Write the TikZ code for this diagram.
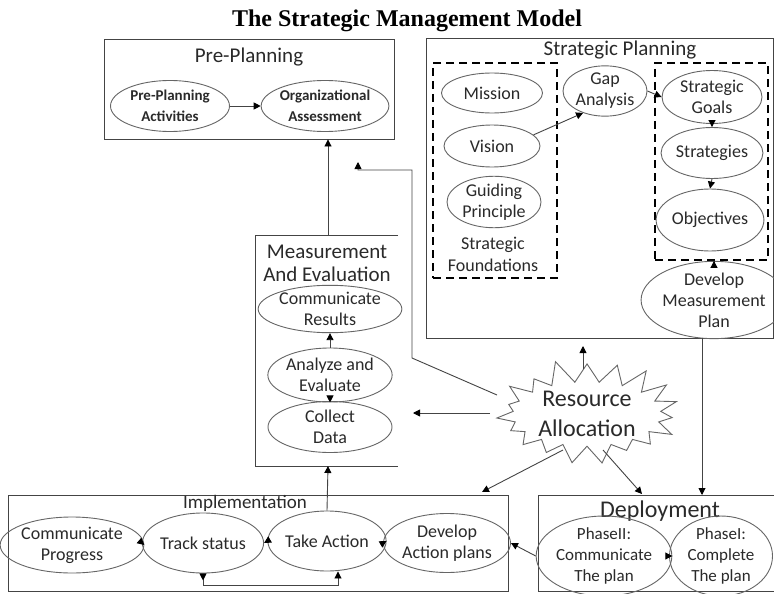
\documentclass[tikz,border=0pt]{standalone}
\usepackage{fontspec}
\setmainfont{Carlito}
\newfontfamily\titlefont{Liberation Serif}
\usetikzlibrary{shapes.geometric,shapes.symbols,arrows.meta}
\definecolor{lc}{HTML}{444444}
\definecolor{ec}{HTML}{666666}
\definecolor{tc}{HTML}{2A2A2A}
\tikzset{
  boxline/.style={draw=lc, line width=0.9pt},
  ell/.style={ellipse, draw=ec, line width=0.9pt, inner sep=0pt, align=center, text=tc,
              font=\fontsize{18}{21}\selectfont},
  bell/.style={ell, font=\bfseries\fontsize{15}{21}\selectfont},
  hdr/.style={text=tc, align=center, inner sep=0pt, font=\fontsize{21}{22}\selectfont},
  dbox/.style={draw=black, line width=2pt, dash pattern=on 8pt off 5pt, rectangle, inner sep=0pt},
  tip/.style={Triangle[length=7pt,width=7pt]},
  arr/.style={draw=lc, line width=0.9pt, -{Triangle[length=7pt,width=7pt,color=black]}},
  plain/.style={draw=lc, line width=0.9pt},
}
\begin{document}
\begin{tikzpicture}[x=1pt,y=-1pt]
\useasboundingbox[fill=white] (0,0) rectangle (774,594);

% title
\node[font=\titlefont\bfseries\fontsize{24}{26}\selectfont, text=black] (title) at (407,21) {The Strategic Management Model};

% ---------- Pre-Planning ----------
\node[boxline, rectangle, minimum width=290pt, minimum height=100pt] (pp) at (249,89) {};
\node[hdr] (pph) at (249,57) {Pre-Planning};
\node[bell, minimum width=119pt, minimum height=51pt] (ppa) at (170,106) {Pre-Planning\\Activities};
\node[bell, minimum width=124pt, minimum height=51pt] (ppo) at (325,106) {Organizational\\Assessment};
\draw[arr] (ppa) -- (ppo);

% ---------- Measurement and Evaluation ----------
\coordinate (mtop) at (328,235);
\coordinate (mbot) at (328,466);
\draw[plain] (398,235) -- (255,235) -- (255,466) -- (398,466);
\node[hdr] (mh1) at (327,252) {Measurement};
\node[hdr] (mh2) at (327,274) {And Evaluation};
\node[ell, minimum width=124pt, minimum height=44pt] (cr) at (330,309) {Communicate\\Results};
\node[ell, minimum width=124pt, minimum height=54pt] (ae) at (330,375) {Analyze and\\Evaluate};
\node[ell, minimum width=124pt, minimum height=51pt] (cd) at (330,427) {Collect\\Data};
\draw[arr] (cd.north) -- (ae.south);
\draw[arr] (ae.north) -- (cr.south);
\draw[arr] (mtop) -- (mtop |- pp.south);

% ---------- Strategic Planning ----------
\node[boxline, rectangle, minimum width=347pt, minimum height=300pt] (sp) at (599.5,188) {};
\node[hdr] (sph) at (620,50) {Strategic Planning};
\node[dbox, minimum width=124pt, minimum height=215pt] (ldb) at (495,170.5) {};
\node[ell, minimum width=101pt, minimum height=40pt] (mis) at (492,93) {Mission};
\node[ell, minimum width=96pt, minimum height=42pt] (vis) at (492,146) {Vision};
\node[ell, minimum width=94pt, minimum height=50pt] (gp) at (494,202) {Guiding\\Principle};
\node[hdr, font=\fontsize{18}{22}\selectfont] (sf) at (493,254) {Strategic\\Foundations};
\node[ell, minimum width=84pt, minimum height=48pt] (gap) at (605,91) {Gap\\Analysis};
\node[dbox, minimum width=113pt, minimum height=197pt] (rdb) at (711.5,161.5) {};
\node[ell, minimum width=100pt, minimum height=53pt] (sg) at (712,97) {Strategic\\Goals};
\node[ell, minimum width=100pt, minimum height=51pt] (st) at (712,153) {Strategies};
\node[ell, minimum width=100pt, minimum height=62pt] (ob) at (710,220) {Objectives};
\node[ell, minimum width=118pt, minimum height=64pt] (dmp) at (714,300) {Develop\\Measurement\\Plan};
\draw[arr] (vis.15) -- (gap.225);
\draw[arr] (gap.east) -- (sg.west);
\draw[arr] (sg.south) -- (st.north);
\draw[arr] (st.south) -- (ob.north);
\draw[arr] (rdb.south -| dmp) -- (dmp.north);

% ---------- Deployment ----------
\coordinate (dtop) at (702,495);
\draw[plain] (774,495) -- (538,495) -- (538,591) -- (774,591);
\node[hdr, font=\fontsize{24}{26}\selectfont] (deph) at (660,511) {Deployment};
\node[ell, font=\fontsize{17}{21}\selectfont, minimum width=118pt, minimum height=71pt] (p2) at (604,556) {PhaseII:\\Communicate\\The plan};
\node[ell, font=\fontsize{17}{21}\selectfont, minimum width=103pt, minimum height=71pt] (p1) at (721,556) {PhaseI:\\Complete\\The plan};
\draw[arr] (p1.west) -- (p2.east);
\draw[arr] (dtop |- sp.south) -- (dtop);

% ---------- Implementation ----------
\node[boxline, rectangle, minimum width=500pt, minimum height=96pt] (imp) at (258,543) {};
\node[hdr, font=\fontsize{19}{21}\selectfont] (imph) at (245,503) {Implementation};
\node[ell, minimum width=123pt, minimum height=56pt] (cp) at (72,545) {Communicate\\Progress};
\node[ell, minimum width=113pt, minimum height=60pt] (ts) at (203,543) {Track status};
\node[ell, minimum width=111pt, minimum height=60pt] (ta) at (327,541) {Take Action};
\node[ell, minimum width=111pt, minimum height=59pt] (dap) at (447,543) {Develop\\Action plans};
\draw[arr] (p2.west) -- (dap.east);
\draw[arr] (dap.west) -- (ta.east);
\draw[arr] (ta.west) -- (ts.east);
\draw[arr] (ts.west) -- (cp.east);
\coordinate (lpr) at (338,585);
\draw[plain, {Triangle[length=7pt,width=7pt,reversed,color=black]}-{Triangle[length=7pt,width=7pt,color=black]}] (ts.south) |- (lpr) -- (lpr |- ta.south);
\draw[arr] (ta.north) -- (mbot);

% ---------- Resource Allocation ----------
\node[starburst, draw=ec, line width=0.9pt, fill=white, starburst points=19, starburst point height=24pt,
      random starburst=11, minimum width=196pt, minimum height=92pt, inner sep=0pt, align=center, text=tc,
      font=\fontsize{24}{30}\selectfont] (ra) at (587,414) {Resource\\Allocation};
\coordinate (raU) at (583,369);
\coordinate (raL) at (490,413);
\coordinate (raDL) at (563,450);
\coordinate (raDR) at (603,450);
\coordinate (raUL) at (497,395);
\draw[arr] (raU) -- (583,346);
\draw[arr] (raL) -- (413,413);
\draw[arr] (raDL) -- (482,492);
\draw[arr] (raDR) -- (642,494);
\draw[arr] (raUL) -- (412,358) -- (412,170) -- (358,170) -- (358,162);
\end{tikzpicture}
\end{document}
